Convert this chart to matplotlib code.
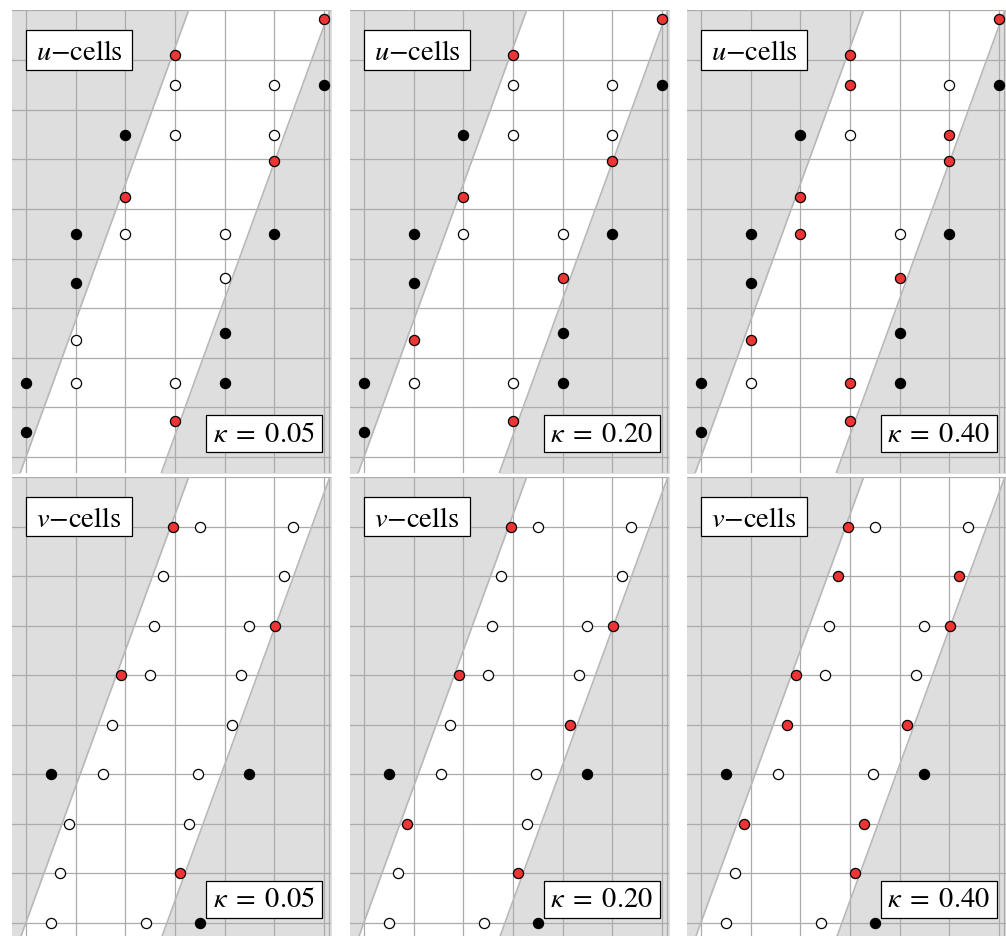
import matplotlib.pyplot as plt
import numpy as np
from matplotlib.patches import Rectangle

plt.rcParams['mathtext.fontset'] = 'stix'
plt.rcParams['font.family'] = ['Liberation Serif', 'DejaVu Serif']

kappas = ['0.05', '0.20', '0.40']

# u-nodes sit on the vertical grid lines
u_x = [6, 3, 3, 5, 6, 2, 3, 5, 5, 2, 1, 2, 4, 5, 1, 4, 1, 4, 0, 1, 3, 4, 0, 3]
u_y = [8.83, 8.11, 7.5, 7.5, 7.5, 6.5, 6.5, 6.5, 5.96, 5.24, 4.5, 4.5,
       4.5, 4.5, 3.5, 3.6, 2.37, 2.5, 1.5, 1.5, 1.5, 1.5, 0.5, 0.72]
# w = fluid, b = solid, r = cut / merged
u_state = {
    '0.05': 'rrwwbbwwrrbwwbbwwbbwwbbr',
    '0.20': 'rrwwbbwwrrbwwbbrrbbwwbbr',
    '0.40': 'rrrwbbwrrrbrwbbrrbbwrbbr',
}

# v-nodes sit on the horizontal grid lines
v_x = [2.953, 3.497, 5.37, 2.765, 5.19, 2.584, 4.497, 5.007, 1.913, 2.497,
       4.322, 1.725, 4.141, 0.497, 1.544, 3.463, 4.497, 0.866, 3.282, 0.678,
       3.1, 0.497, 2.416, 3.497]
v_y = [8, 8, 8, 7, 7, 6, 6, 6, 5, 5, 5, 4, 4, 3, 3, 3, 3, 2, 2, 1, 1, 0, 0, 0]
v_state = {
    '0.05': 'rwwwwwwrrwwwwbwwbwwwrwwb',
    '0.20': 'rwwwwwwrrwwwrbwwbrwwrwwb',
    '0.40': 'rwwrrwwrrwwrrbwwbrrwrwwb',
}

# channel walls: x = y/slope + offset
slope = 2.75
wall_left = 0.0
wall_right = 2.84

face = {'w': 'white', 'b': 'black', 'r': '#ee3535'}
grid_c = '#ababab'
fill_c = '#dedede'

W, H = 1006, 936
fig = plt.figure(figsize=(W / 100, H / 100), dpi=100)

col_px = [12, 350, 687]
rows = [
    # (top px, bottom px, ymin, label, x, y, states)
    (10, 473, -0.32, r'$u{-}\mathrm{cells}$', u_x, u_y, u_state),
    (477, 936, -0.27, r'$v{-}\mathrm{cells}$', v_x, v_y, v_state),
]

for top, bot, ymin, label, xs, ys_pts, states in rows:
    for j, k in enumerate(kappas):
        ax = fig.add_axes([col_px[j] / W, (H - bot) / H, 319 / W, (bot - top) / H])
        ax.set_xlim(-0.28, 6.14)
        ax.set_ylim(ymin, 9.01)
        ax.set_xticks(range(7))
        ax.set_yticks(range(10))
        ax.tick_params(length=0, labelbottom=False, labelleft=False)
        ax.grid(True, color=grid_c, lw=0.9)
        for s in ax.spines.values():
            s.set_visible(False)
        ax.axvline(6.1, color=grid_c, lw=0.9, zorder=1.5)

        yy = np.array([-1.0, 10.0])
        ax.fill_betweenx(yy, -1, yy / slope + wall_left, color=fill_c, lw=0, zorder=0.5)
        ax.fill_betweenx(yy, yy / slope + wall_right, 8, color=fill_c, lw=0, zorder=0.5)
        ax.plot(yy / slope + wall_left, yy, color='#b8b8b8', lw=1.2, zorder=2)
        ax.plot(yy / slope + wall_right, yy, color='#b8b8b8', lw=1.2, zorder=2)

        st = np.array(list(states[k]))
        px = np.array(xs, dtype=float)
        py = np.array(ys_pts, dtype=float)
        for key in 'wbr':
            m = st == key
            ax.plot(px[m], py[m], 'o', ls='none', ms=7.3, mfc=face[key],
                    mec='black', mew=0.9, zorder=3)

        ax.add_patch(Rectangle((0.0, 7.81), 2.14, 0.79, fc='white', ec='black',
                               lw=0.9, zorder=4))
        ax.text(1.07, 8.0, label, ha='center', va='baseline', fontsize=20.5, zorder=5)
        ax.add_patch(Rectangle((3.63, 0.10), 2.32, 0.74, fc='white', ec='black',
                               lw=0.9, zorder=4))
        ax.text(4.79, 0.31, r'$\kappa\;=\;%s$' % k, ha='center', va='baseline',
                fontsize=20.5, zorder=5)

fig.savefig('out.png', dpi=100)
